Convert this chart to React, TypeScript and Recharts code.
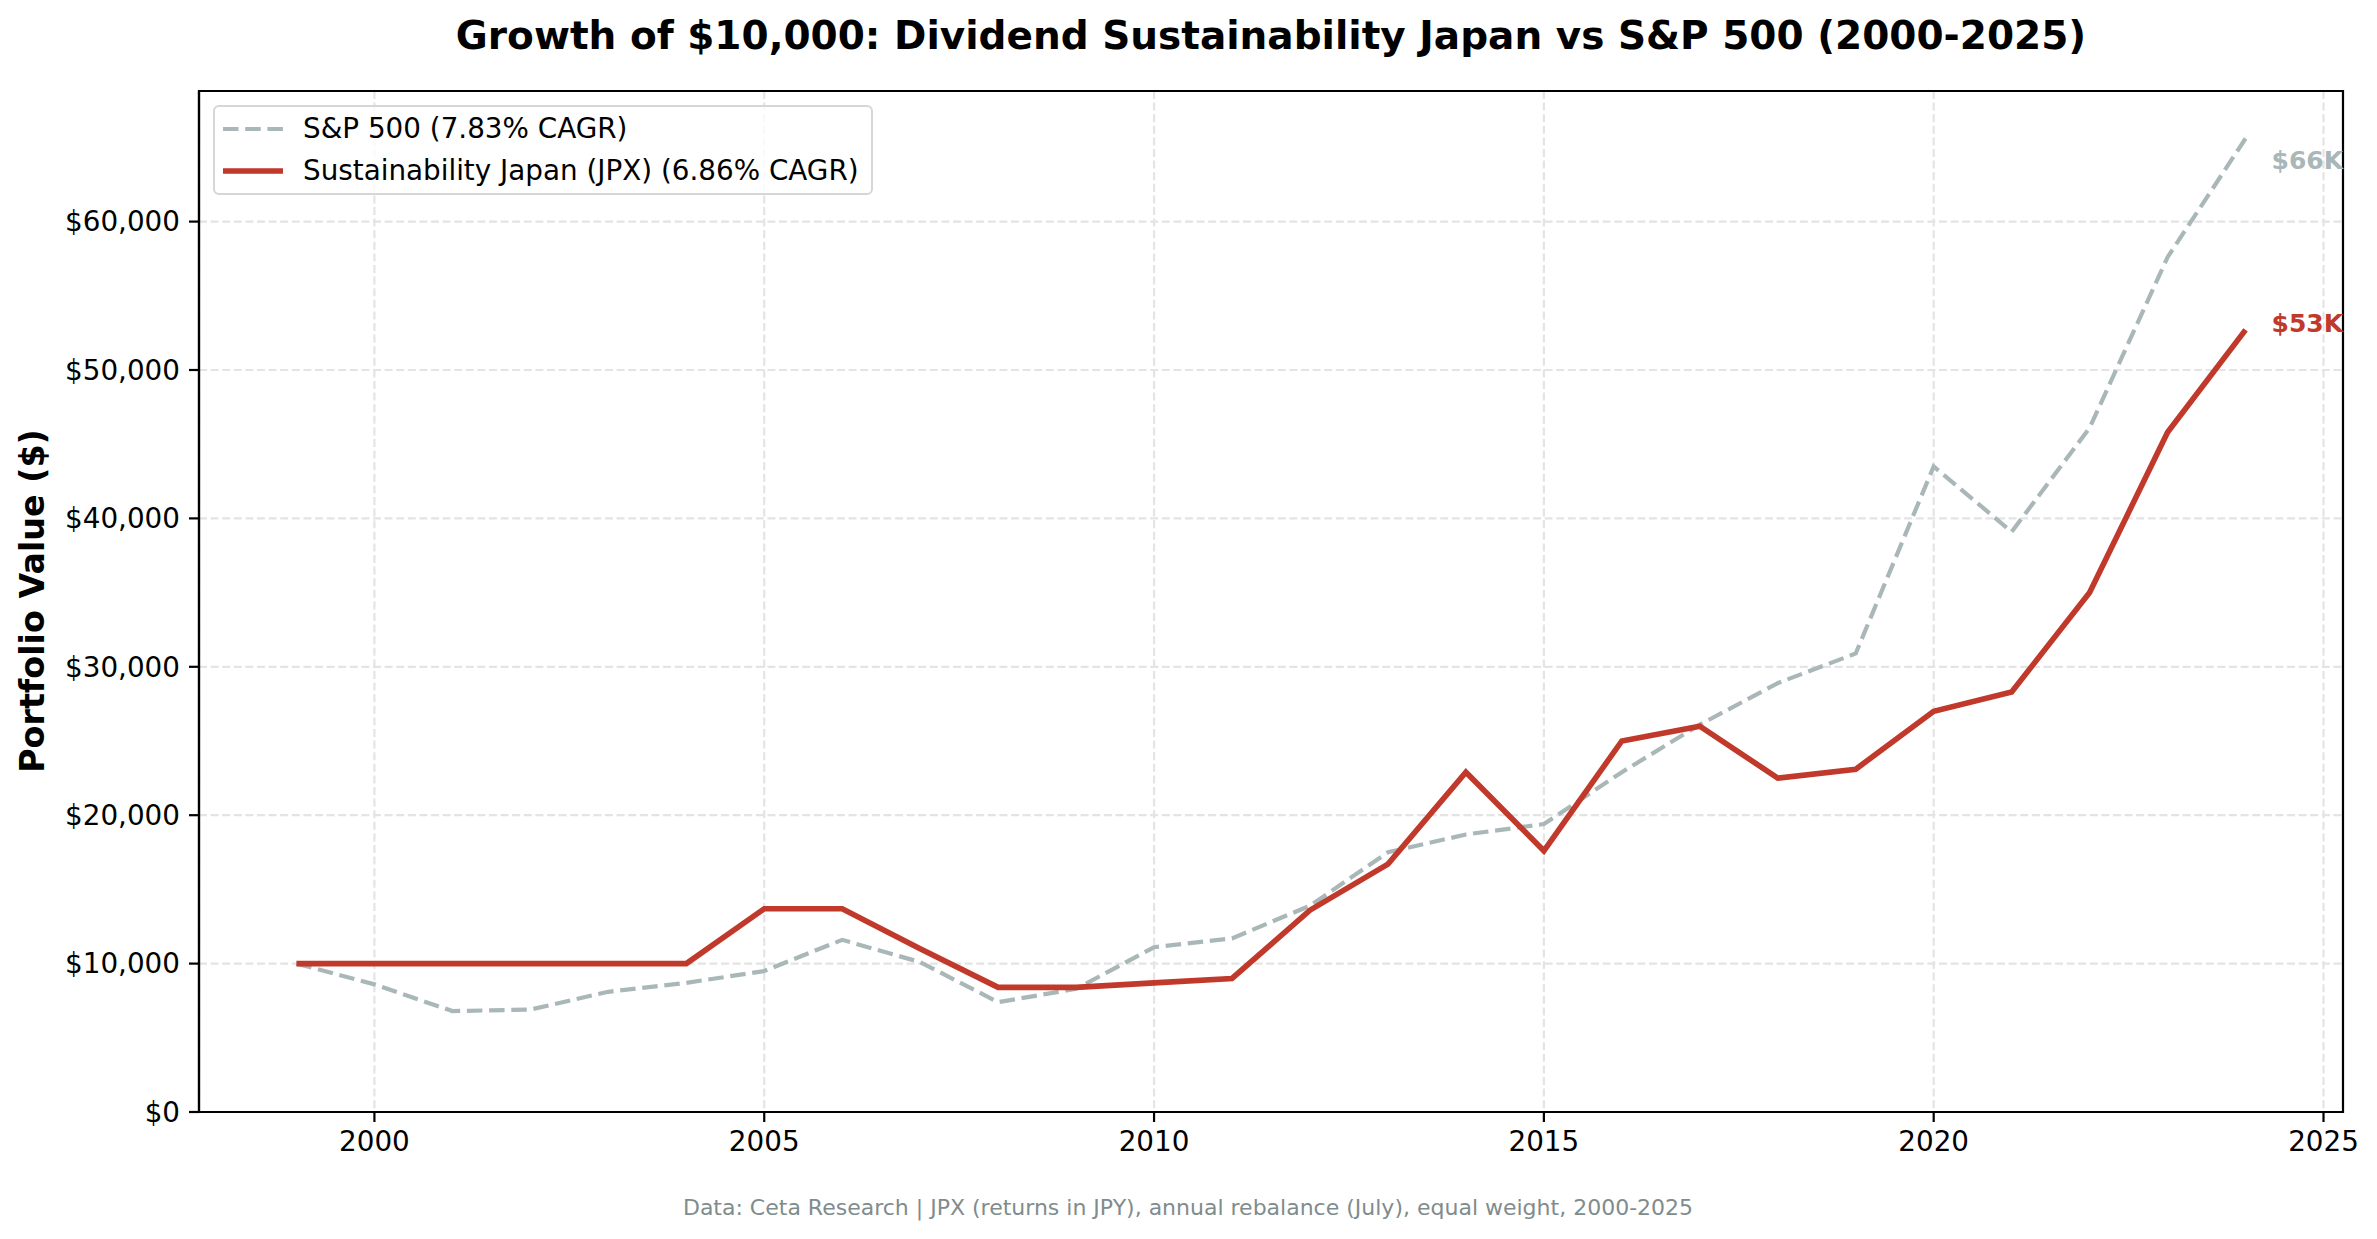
// @ts-nocheck
import { LineChart, Line, XAxis, YAxis, CartesianGrid, ReferenceArea } from 'recharts';

// years on the x axis
const years = [
  1999, 2000, 2001, 2002, 2003, 2004, 2005, 2006, 2007, 2008, 2009, 2010, 2011,
  2012, 2013, 2014, 2015, 2016, 2017, 2018, 2019, 2020, 2021, 2022, 2023, 2024,
];

// S&P 500 portfolio value
const sp500 = [
  10000, 8600, 6800, 6900, 8100, 8700, 9500, 11600, 10100, 7400, 8300, 11100, 11700,
  13900, 17500, 18700, 19400, 22900, 26100, 28900, 30900, 43500, 39100, 46100, 57600, 65600,
];

// Sustainability Japan (JPX) portfolio value
const jpx = [
  10000, 10000, 10000, 10000, 10000, 10000, 13700, 13700, 11000, 8400, 8400, 8700, 9000,
  13600, 16700, 22900, 17600, 25000, 26000, 22500, 23100, 27000, 28300, 35000, 45800, 52700,
];

const xTicks = [2000, 2005, 2010, 2015, 2020, 2025];
const yTicks = [0, 10000, 20000, 30000, 40000, 50000, 60000];

const seriesNames = ['S&P 500 (7.83% CAGR)', 'Sustainability Japan (JPX) (6.86% CAGR)'];
const endLabels = ['$66K', '$53K'];

const GRAY = '#aab7b8';
const RED = '#c0392b';
const FONT = '"DejaVu Sans", sans-serif';

const W = 2377;
const H = 1239;
const X_DOMAIN = [1997.75, 2025.25];
const Y_DOMAIN = [0, 68800];

const data = years.map((year, i) => ({ year, sp: sp500[i], jpx: jpx[i] }));

const fmtMoney = (v) => '$' + v.toLocaleString('en-US');

// label only the last point of a line
function endLabel(text, color, dy) {
  return (props) => {
    const { x, y, index } = props;
    if (index !== years.length - 1) return null;
    return (
      <text
        key="end"
        x={x + 26}
        y={y + dy}
        fill={color}
        fontSize={25}
        fontWeight="bold"
        fontFamily={FONT}
        dominantBaseline="central"
      >
        {text}
      </text>
    );
  };
}

function LegendBox() {
  return (
    <div
      style={{
        position: 'absolute',
        left: 213,
        top: 105,
        border: '2px solid #d6d6d6',
        borderRadius: 6,
        background: 'rgba(255,255,255,0.8)',
        padding: '1px 12px 1px 8px',
        fontFamily: FONT,
        fontSize: 27.8,
        color: '#000',
        lineHeight: '42px',
        zIndex: 2,
      }}
    >
      <div style={{ display: 'flex', alignItems: 'center' }}>
        <svg width={60} height={12} style={{ marginRight: 20 }}>
          <line x1={0} y1={6} x2={60} y2={6} stroke={GRAY} strokeWidth={4.2} strokeDasharray="15.5 6.7" />
        </svg>
        <span>{seriesNames[0]}</span>
      </div>
      <div style={{ display: 'flex', alignItems: 'center' }}>
        <svg width={60} height={12} style={{ marginRight: 20 }}>
          <line x1={0} y1={6} x2={60} y2={6} stroke={RED} strokeWidth={5.6} />
        </svg>
        <span>{seriesNames[1]}</span>
      </div>
    </div>
  );
}

export default function App() {
  const tickStyle = { fontSize: 27.8, fill: '#000', fontFamily: FONT };
  return (
    <div style={{ position: 'absolute', left: 0, top: 0, width: W, height: H, background: '#fff' }}>
      {/* title */}
      <div
        style={{
          position: 'absolute',
          left: 1271 - 1200,
          width: 2400,
          top: 16,
          textAlign: 'center',
          fontFamily: FONT,
          fontWeight: 'bold',
          fontSize: 39,
          lineHeight: '40px',
          color: '#000',
        }}
      >
        Growth of $10,000: Dividend Sustainability Japan vs S&amp;P 500 (2000-2025)
      </div>

      {/* y axis label */}
      <div
        style={{
          position: 'absolute',
          left: 33 - 300,
          top: 601 - 20,
          width: 600,
          height: 40,
          lineHeight: '40px',
          textAlign: 'center',
          transform: 'rotate(-90deg)',
          fontFamily: FONT,
          fontWeight: 'bold',
          fontSize: 33.3,
          color: '#000',
        }}
      >
        Portfolio Value ($)
      </div>

      <LineChart
        width={W}
        height={H}
        data={data}
        margin={{ top: 91, right: 34, bottom: 67, left: 79 }}
      >
        <CartesianGrid stroke="#e4e4e4" strokeWidth={2.2} strokeDasharray="8 3.6" />
        <XAxis
          dataKey="year"
          type="number"
          domain={X_DOMAIN}
          ticks={xTicks}
          interval={0}
          height={60}
          tick={tickStyle}
          tickSize={10}
          tickMargin={9}
          axisLine={{ stroke: '#000', strokeWidth: 2.2 }}
          tickLine={{ stroke: '#000', strokeWidth: 2.2 }}
        />
        <YAxis
          type="number"
          domain={Y_DOMAIN}
          ticks={yTicks}
          interval={0}
          width={120}
          tick={tickStyle}
          tickFormatter={fmtMoney}
          tickSize={10}
          tickMargin={9}
          axisLine={{ stroke: '#000', strokeWidth: 2.2 }}
          tickLine={{ stroke: '#000', strokeWidth: 2.2 }}
        />
        <ReferenceArea
          x1={X_DOMAIN[0]}
          x2={X_DOMAIN[1]}
          y1={Y_DOMAIN[0]}
          y2={Y_DOMAIN[1]}
          fill="none"
          fillOpacity={0}
          stroke="#000"
          strokeWidth={2.2}
          ifOverflow="visible"
        />
        <Line
          dataKey="sp"
          name={seriesNames[0]}
          stroke={GRAY}
          strokeWidth={4.2}
          strokeDasharray="15.5 6.7"
          dot={false}
          isAnimationActive={false}
          label={endLabel(endLabels[0], GRAY, 22)}
        />
        <Line
          dataKey="jpx"
          name={seriesNames[1]}
          stroke={RED}
          strokeWidth={5.6}
          dot={false}
          isAnimationActive={false}
          label={endLabel(endLabels[1], RED, -6)}
        />
      </LineChart>

      <LegendBox />

      {/* footnote */}
      <div
        style={{
          position: 'absolute',
          left: 1188 - 1000,
          width: 2000,
          top: 1208 - 14,
          textAlign: 'center',
          fontFamily: FONT,
          fontSize: 22,
          lineHeight: '28px',
          color: '#7f8c8d',
        }}
      >
        Data: Ceta Research | JPX (returns in JPY), annual rebalance (July), equal weight, 2000-2025
      </div>
    </div>
  );
}
